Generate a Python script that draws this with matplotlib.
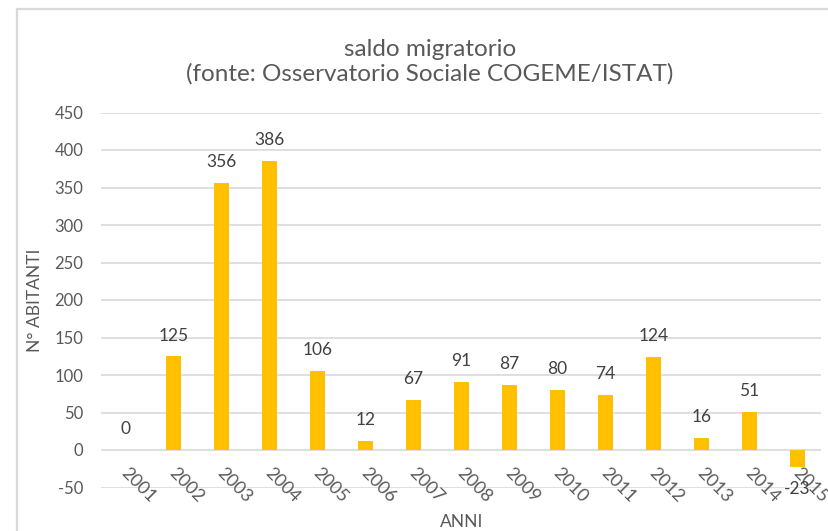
import matplotlib
matplotlib.use("Agg")
import matplotlib.pyplot as plt
from matplotlib.patches import Rectangle

years = ["2001", "2002", "2003", "2004", "2005", "2006", "2007", "2008",
         "2009", "2010", "2011", "2012", "2013", "2014", "2015"]
values = [0, 125, 356, 386, 106, 12, 67, 91, 87, 80, 74, 124, 16, 51, -23]
yticks = [-50, 0, 50, 100, 150, 200, 250, 300, 350, 400, 450]

title = "saldo migratorio\n(fonte: Osservatorio Sociale COGEME/ISTAT)"
ylabel = "N° ABITANTI"
xlabel = "ANNI"

plt.rcParams['font.family'] = ['Lato', 'DejaVu Sans']
W, H = 829, 531
fig = plt.figure(figsize=(W / 100, H / 100), dpi=100)
fig.patch.set_facecolor("white")

# chart frame
fig.patches.append(Rectangle((17 / W, -0.1), 1.2, 1 - 9 / H + 0.1,
                             transform=fig.transFigure, fill=False,
                             edgecolor="#D9D9D9", linewidth=1.6))

ax = fig.add_axes([101.5 / W, (H - 487.5) / H, 720 / W, 375 / H])
x = list(range(len(years)))
ax.bar(x, values, width=0.31, color="#FFC000", zorder=3)
ax.set_xlim(-0.5, len(years) - 0.5)
ax.set_ylim(-50, 450)
ax.set_yticks(yticks)
ax.set_yticklabels([str(v) for v in yticks], fontsize=12, color="#595959")
ax.tick_params(axis="y", length=0, pad=13)
ax.set_xticks([])
ax.yaxis.grid(True, color="#D9D9D9", linewidth=1.2, zorder=0)
for s in ax.spines.values():
    s.set_visible(False)
ax.set_facecolor("none")

for xi, v in zip(x, values):
    off = 14.8 if v >= 0 else -15.5
    ax.annotate(str(v), (xi, v), xytext=(0, off), textcoords="offset points",
                ha="center", va="center", fontsize=12.5, color="#404040", zorder=5)

for xi, lab in zip(x, years):
    ax.annotate(lab, (xi, 0), xytext=(9.5, -25.5), textcoords="offset points",
                ha="center", va="center", rotation=-45, rotation_mode="anchor",
                fontsize=13, color="#595959")

fig.text(430 / W, 1 - 62 / H, title, ha="center", va="center",
         fontsize=17.5, color="#595959", linespacing=1.2)
fig.text(35 / W, 1 - 300 / H, ylabel, ha="center", va="center",
         rotation=90, fontsize=12.5, color="#595959")
fig.text(462 / W, 1 - 522 / H, xlabel, ha="center", va="center",
         fontsize=12.5, color="#595959")

fig.savefig("out.png", dpi=100)
